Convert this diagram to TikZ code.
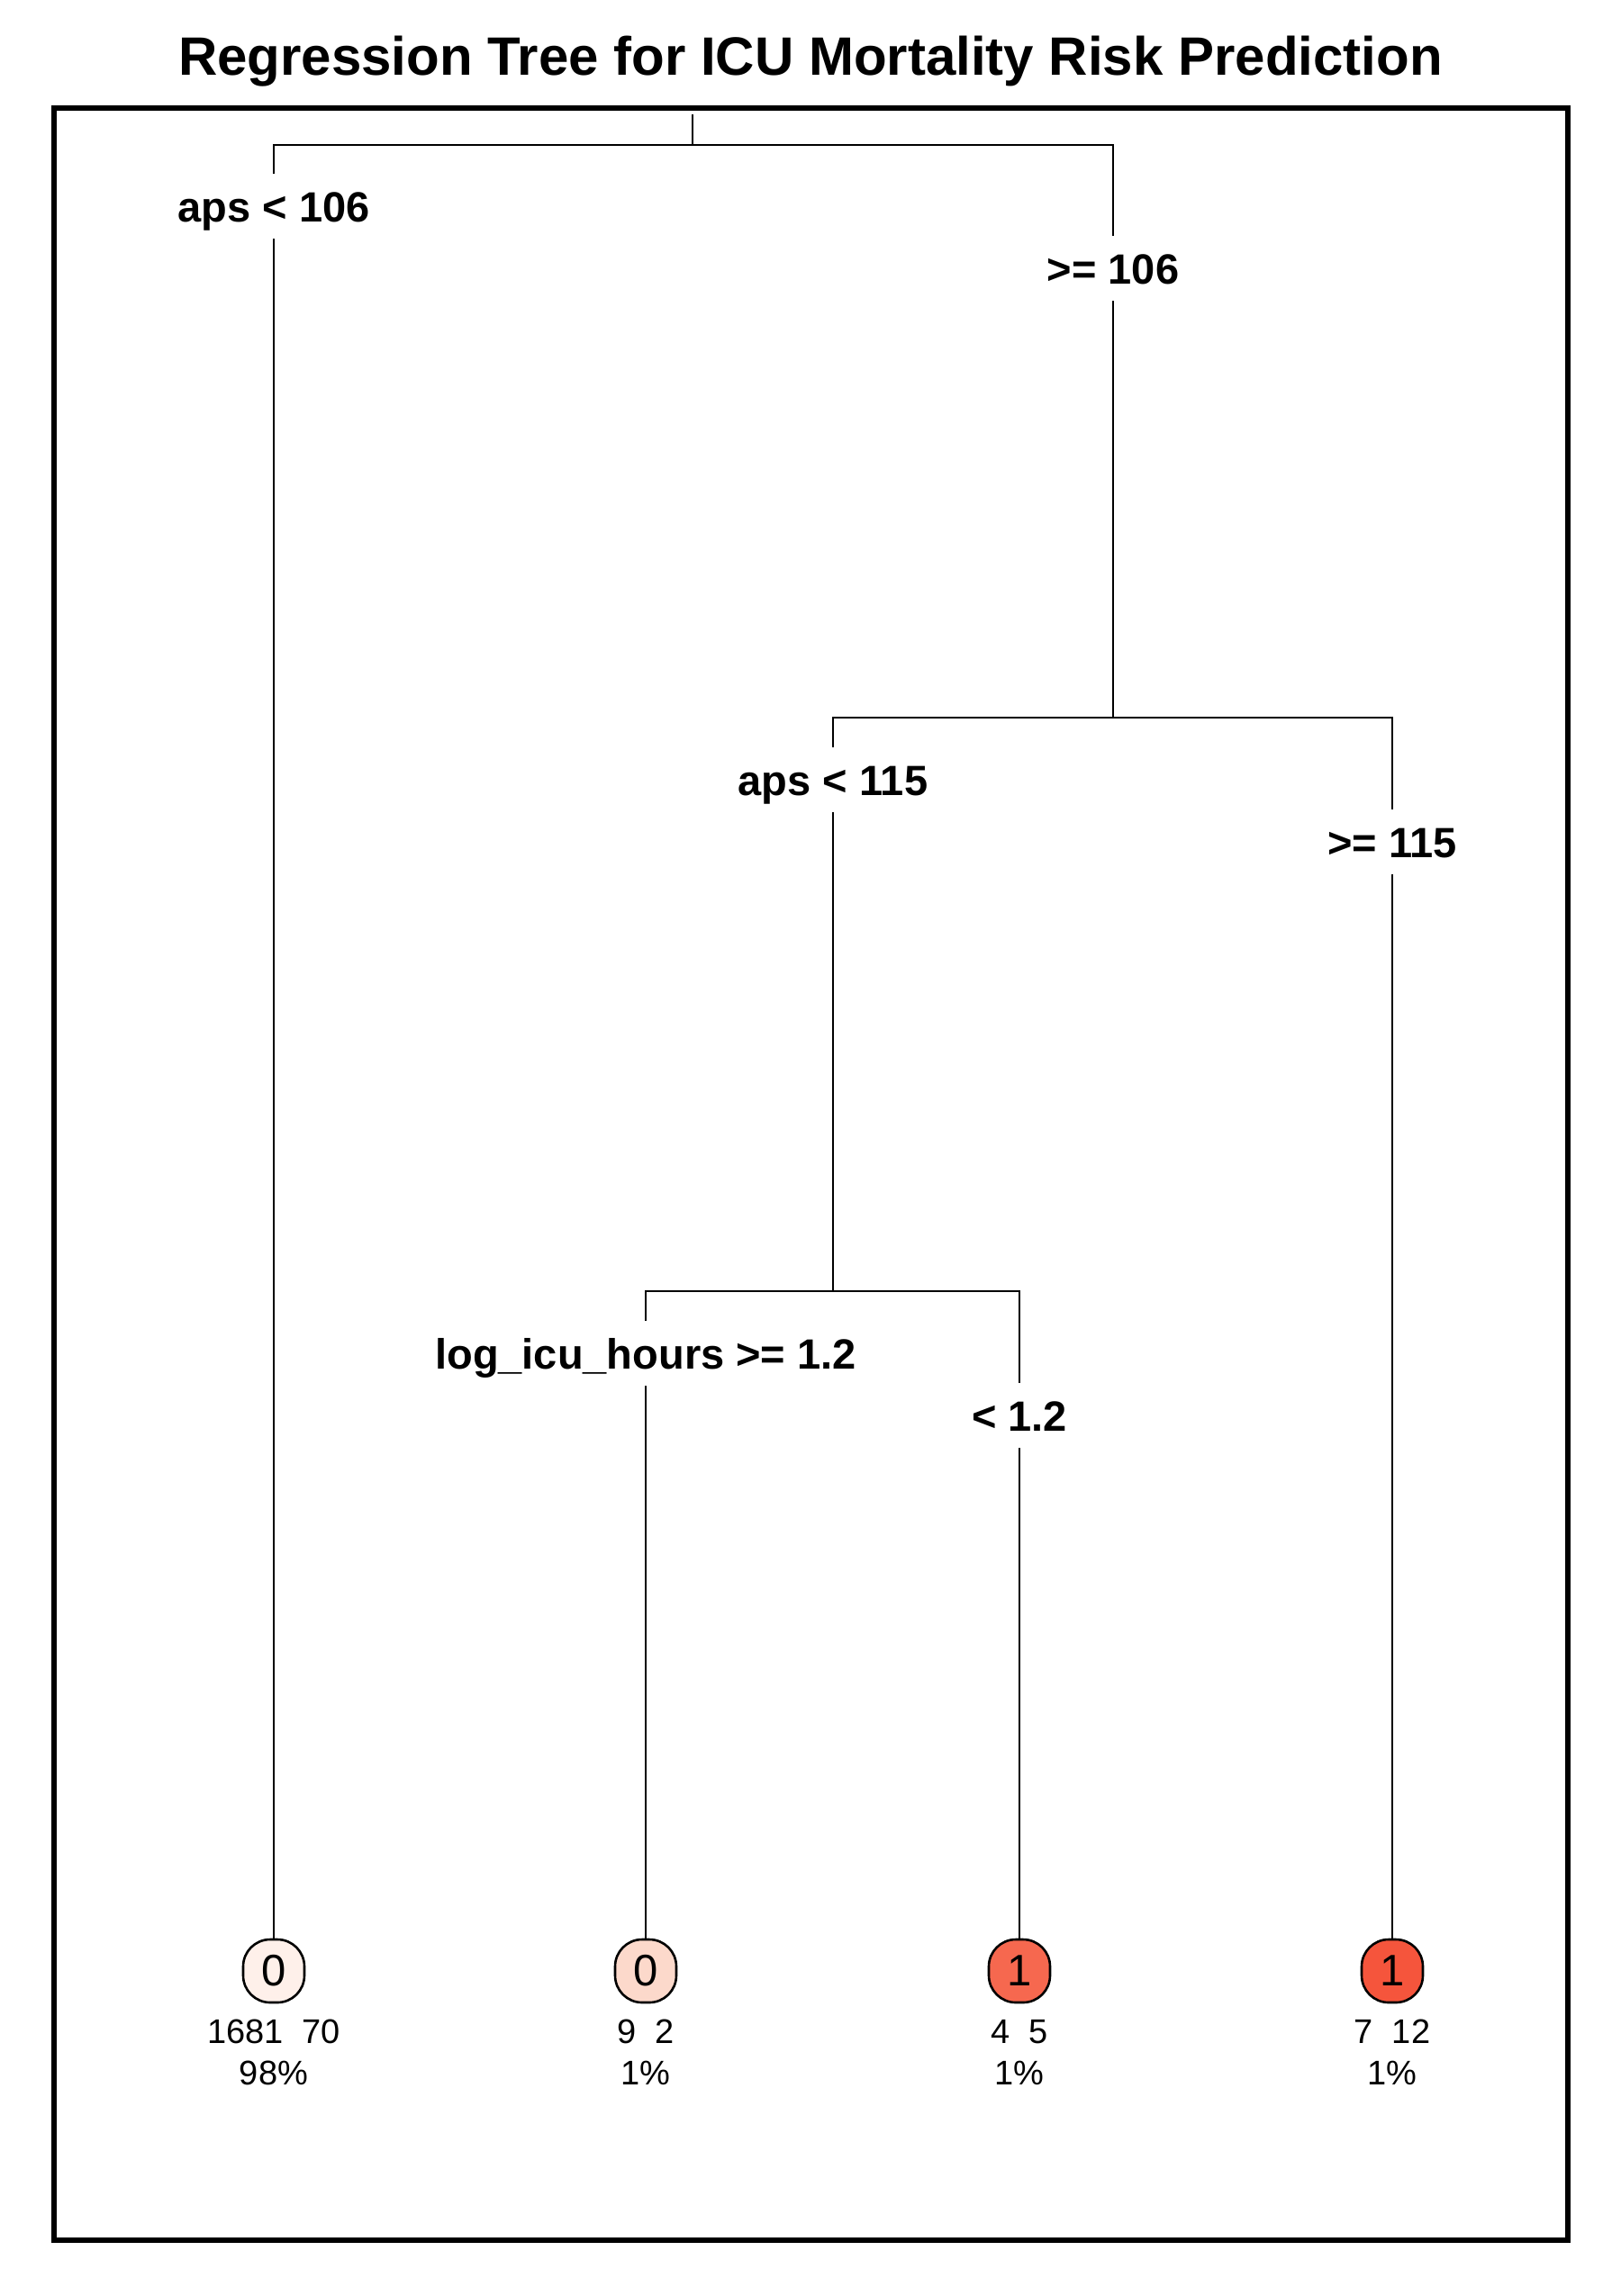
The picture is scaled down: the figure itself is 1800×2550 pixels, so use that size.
\documentclass[tikz,border=0pt]{standalone}
\usepackage{fontspec}
\setmainfont{Liberation Sans}
\usetikzlibrary{positioning}
\definecolor{lfA}{RGB}{254,240,234}
\definecolor{lfB}{RGB}{252,217,203}
\definecolor{lfC}{RGB}{246,104,79}
\definecolor{lfD}{RGB}{245,85,60}

\begin{document}
\begin{tikzpicture}[x=0.5pt, y=-0.5pt,
    split/.style={font=\fontsize{23.5}{28}\selectfont\bfseries, inner sep=0pt,
        text height=17pt, text depth=0pt, minimum height=36pt},
    leaf/.style={draw, line width=1.3pt, rounded corners=15pt, inner sep=0pt,
        minimum width=34pt, minimum height=35pt, font=\fontsize{24.5}{29}\selectfont},
    count/.style={font=\fontsize{19}{23}\selectfont, inner sep=0pt,
        text height=13.6pt, text depth=0pt},
    branch/.style={line width=1pt}]
    \useasboundingbox (0,0) rectangle (1800,2550);

    \node[font=\fontsize{30}{36}\selectfont\bfseries, inner sep=0pt, text height=21.5pt, text depth=0pt]
        (title) at (900,62) {Regression Tree for ICU Mortality Risk Prediction};
    \draw[line width=3pt] (60,120) rectangle (1741,2488);

    \coordinate (rootT) at (769,127);
    \coordinate (rootB) at (769,161);
    \coordinate (s2) at (1236,797);
    \coordinate (s3) at (925,1434);

    \node[split] (aps106) at (304,229) {aps < 106};
    \node[split] (ge106) at (1236,298) {>= 106};
    \node[split] (aps115) at (925,866) {aps < 115};
    \node[split] (ge115) at (1546,935) {>= 115};
    \node[split] (logicu) at (717,1503) {log\_icu\_hours >= 1.2};
    \node[split] (lt12) at (1132,1572) {< 1.2};

    \node[leaf, fill=lfA] (leafA) at (304,2189) {0};
    \node[leaf, fill=lfB] (leafB) at (717,2189) {0};
    \node[leaf, fill=lfC] (leafC) at (1132,2189) {1};
    \node[leaf, fill=lfD] (leafD) at (1546,2189) {1};

    \node[count] (nA) at (304,2256) {1681\ \ 70};
    \node[count] (nB) at (717,2256) {9\ \ 2};
    \node[count] (nC) at (1132,2256) {4\ \ 5};
    \node[count] (nD) at (1546,2256) {7\ \ 12};
    \node[count] (pA) at (304,2302) {98\%};
    \node[count] (pB) at (717,2302) {1\%};
    \node[count] (pC) at (1132,2302) {1\%};
    \node[count] (pD) at (1546,2302) {1\%};

    \draw[branch] (rootT) -- (rootB);
    \draw[branch] (aps106.north) |- (rootB) -| (ge106.north);
    \draw[branch] (aps106.south) -- (leafA.north);
    \draw[branch] (ge106.south) -- (s2);
    \draw[branch] (aps115.north) |- (s2) -| (ge115.north);
    \draw[branch] (ge115.south) -- (leafD.north);
    \draw[branch] (aps115.south) -- (s3);
    \draw[branch] (logicu.north) |- (s3) -| (lt12.north);
    \draw[branch] (logicu.south) -- (leafB.north);
    \draw[branch] (lt12.south) -- (leafC.north);
\end{tikzpicture}
\end{document}
